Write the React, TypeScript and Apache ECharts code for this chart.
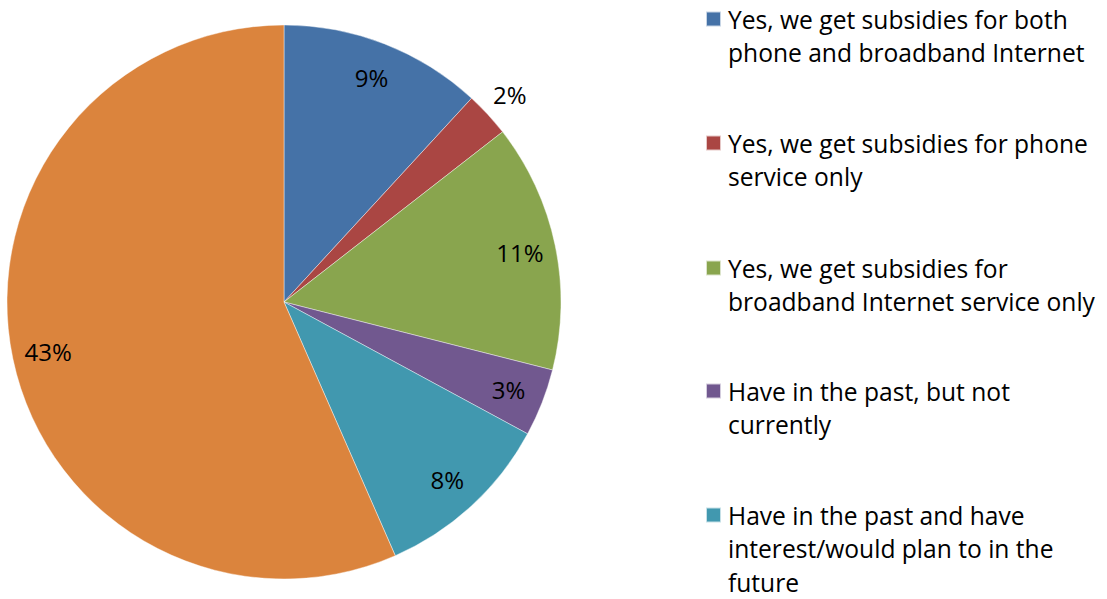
import React, { useEffect, useRef } from "react";
import * as echarts from "echarts";

const categories = [
  "Yes, we get subsidies for both phone and broadband Internet",
  "Yes, we get subsidies for phone service only",
  "Yes, we get subsidies for broadband Internet service only",
  "Have in the past, but not currently",
  "Have in the past and have interest/would plan to in the future",
  "Other",
];
const values = [9, 2, 11, 3, 8, 43];
const colors = ["#4572A7", "#AA4643", "#89A54E", "#71588F", "#4198AF", "#DB843D"];
const legendLines = [
  ["Yes, we get subsidies for both", "phone and broadband Internet"],
  ["Yes, we get subsidies for phone", "service only"],
  ["Yes, we get subsidies for", "broadband Internet service only"],
  ["Have in the past, but not", "currently"],
  ["Have in the past and have", "interest/would plan to in the", "future"],
];
const outsideLabelIndex = [1];

const FONT = "'Open Sans', 'Noto Sans', sans-serif";
const LH = 33.5;
const markerCenters = [19, 143, 268, 391, 515];

export default function App() {
  const ref = useRef<HTMLDivElement>(null);
  useEffect(() => {
    if (!ref.current) return;
    const chart = echarts.init(ref.current, null, { renderer: "svg" });
    const cx = 284;
    const cy = 302;
    const r = 277;
    const data = categories.map((name, i) => ({ name, value: values[i], itemStyle: { color: colors[i] } }));
    const legends = legendLines.map((lines, i) => {
      const k = lines.length;
      const top = markerCenters[i] - ((2 * k - 1) * LH) / 2;
      return {
        data: [categories[i]],
        orient: "vertical",
        left: 705,
        top,
        padding: 0,
        itemGap: 0,
        itemWidth: 15,
        itemHeight: 15,
        icon: "rect",
        selectedMode: false,
        formatter: () => "\n".repeat(k - 1) + lines.join("\n"),
        textStyle: { fontFamily: FONT, fontSize: 24.6, lineHeight: LH, color: "#000", padding: [0, 0, 0, 2] },
      };
    });
    chart.setOption({
      animation: false,
      backgroundColor: "#fff",
      legend: legends,
      series: [
        {
          type: "pie",
          center: [cx, cy],
          radius: r,
          startAngle: 90,
          clockwise: true,
          data,
          label: { show: false },
          labelLine: { show: false },
          itemStyle: { borderColor: "rgba(255,255,255,0.7)", borderWidth: 0.6 },
          emphasis: { disabled: true },
        },
        {
          type: "pie",
          center: [cx, cy],
          radius: [199, 277],
          startAngle: 90,
          silent: true,
          data: data.map((d, i) => ({
            name: d.name,
            value: d.value,
            label: { show: !outsideLabelIndex.includes(i) },
          })),
          itemStyle: { color: "rgba(0,0,0,0)", borderWidth: 0 },
          label: {
            position: "inside",
            formatter: "{c}%",
            fontFamily: FONT,
            fontSize: 24,
            color: "#000",
          },
          labelLine: { show: false },
          emphasis: { disabled: true },
        },
        {
          type: "pie",
          center: [cx, cy],
          radius: [282, 326],
          startAngle: 90,
          silent: true,
          data: data.map((d, i) => ({
            name: d.name,
            value: d.value,
            label: { show: outsideLabelIndex.includes(i) },
          })),
          itemStyle: { color: "rgba(0,0,0,0)", borderWidth: 0 },
          label: {
            position: "inside",
            formatter: "{c}%",
            fontFamily: FONT,
            fontSize: 24,
            color: "#000",
          },
          labelLine: { show: false },
          emphasis: { disabled: true },
        },
      ],
    });
    return () => chart.dispose();
  }, []);
  return <div ref={ref} style={{ position: "fixed", left: 0, top: 0, width: 1107, height: 599 }} />;
}
